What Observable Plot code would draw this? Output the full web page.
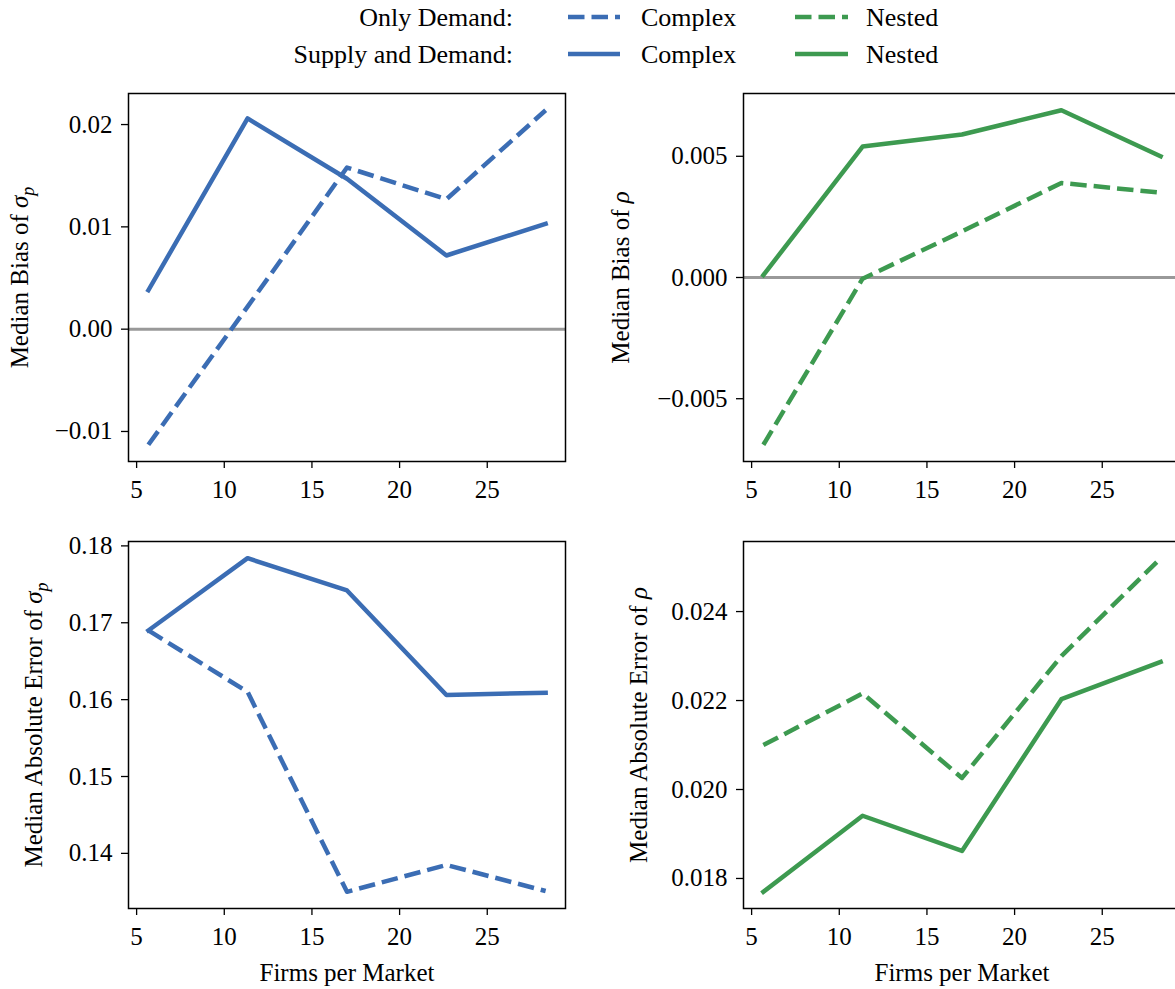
<!DOCTYPE html>
<html><head><meta charset="utf-8">
<script src="https://cdn.jsdelivr.net/npm/d3@7"></script>
<script src="https://cdn.jsdelivr.net/npm/@observablehq/plot@0.6"></script>
<style>
html,body{margin:0;padding:0;background:#fff;width:1175px;height:989px;overflow:hidden;}
.panel{position:absolute;}
.panel svg{max-width:none !important;}
</style></head><body>
<div id="legend" class="panel" style="left:0;top:0"></div>
<div id="tl" class="panel" style="left:0;top:70px"></div>
<div id="tr" class="panel" style="left:600px;top:70px"></div>
<div id="bl" class="panel" style="left:0;top:500px"></div>
<div id="br" class="panel" style="left:600px;top:500px"></div>
<script>
// ---- data ----
const firms = [5.67, 11.33, 17.0, 22.67, 28.33];
const biasSigmaDemand = [-0.0113, 0.0022, 0.0158, 0.0127, 0.0214];
const biasSigmaSupply = [0.0038, 0.0206, 0.0147, 0.0072, 0.0103];
const biasRhoDemand = [-0.0069, -0.00005, 0.0019, 0.0039, 0.0035];
const biasRhoSupply = [0.0001, 0.0054, 0.0059, 0.0069, 0.0050];
const maeSigmaDemand = [0.1690, 0.1610, 0.1350, 0.1385, 0.1351];
const maeSigmaSupply = [0.1690, 0.1784, 0.1742, 0.1606, 0.1609];
const maeRhoDemand = [0.0210, 0.02216, 0.02026, 0.0230, 0.0252];
const maeRhoSupply = [0.0177, 0.01941, 0.01862, 0.02203, 0.02287];

const xTicks = [5, 10, 15, 20, 25];
const biasSigmaTicks = [-0.01, 0, 0.01, 0.02];
const biasRhoTicks = [-0.005, 0, 0.005];
const maeSigmaTicks = [0.14, 0.15, 0.16, 0.17, 0.18];
const maeRhoTicks = [0.018, 0.020, 0.022, 0.024];

const legendRows = ["Only Demand:", "Supply and Demand:"];
const legendModels = ["Complex", "Nested"];
const xLabelText = "Firms per Market";

// ---- style ----
const FONT = "Liberation Serif";
const FS = 25;
const BLUE = "#3b6db4", GREEN = "#3d9a50";
const LW = 4.5;
const DASH = "16.5,7";

function padded(vals) {
  const [a, b] = d3.extent(vals);
  const m = (b - a) * 0.05;
  return [a - m, b + m];
}

function panel(o) {
  const rows = (vals, model) => firms.map((f, i) => ({firms: f, value: vals[i], model}));
  const dem = rows(o.demand, "Only Demand");
  const sup = rows(o.supply, "Supply and Demand");
  const marks = [];
  if (o.zero) marks.push(Plot.ruleY([0], {stroke: "#999", strokeWidth: 3}));
  marks.push(Plot.line(dem, {x: "firms", y: "value", stroke: o.color, strokeWidth: LW,
    strokeDasharray: DASH, strokeLinecap: "butt", strokeLinejoin: "round"}));
  marks.push(Plot.line(sup, {x: "firms", y: "value", stroke: o.color, strokeWidth: LW,
    strokeLinecap: "square", strokeLinejoin: "round"}));
  marks.push(Plot.frame({stroke: "black", strokeWidth: 1.5}));
  marks.push(Plot.axisX({ticks: xTicks, tickFormat: d3.format("d"), tickSize: 7, tickPadding: 12,
    strokeWidth: 1.3, label: o.xLabel ? xLabelText : null, labelAnchor: "center", labelOffset: 72}));
  marks.push(Plot.axisY({ticks: o.yTicks, tickFormat: d3.format(o.yFormat), tickSize: 7, tickPadding: 9,
    strokeWidth: 1.3, label: o.yLabel, labelAnchor: "center", labelOffset: o.labelOffset}));
  const svg = Plot.plot({
    width: o.width, height: o.height,
    marginLeft: o.marginLeft, marginRight: o.marginRight,
    marginTop: o.marginTop, marginBottom: o.marginBottom,
    x: {domain: padded(firms)},
    y: {domain: padded([...o.demand, ...o.supply])},
    style: {fontFamily: FONT, fontSize: FS + "px", color: "black", background: "transparent",
      overflow: "visible", maxWidth: "none"},
    marks
  });
  svg.style.maxWidth = "none";
  svg.style.width = o.width + "px";
  svg.style.height = o.height + "px";
  const yl = svg.querySelector('[aria-label="y-axis label"] text');
  if (yl) {
    const sym = o.sub
      ? `<tspan font-style="italic">${o.symbol}</tspan><tspan font-style="italic" font-size="${Math.round(FS*0.7)}" dy="6">${o.sub}</tspan>`
      : `<tspan font-style="italic">${o.symbol}</tspan>`;
    yl.innerHTML = o.yLabel + " " + sym;
  }
  const xl = svg.querySelector('[aria-label="x-axis label"] text');
  if (xl) xl.textContent = xLabelText;
  document.getElementById(o.id).appendChild(svg);
}

panel({id: "tl", demand: biasSigmaDemand, supply: biasSigmaSupply, color: BLUE, zero: true,
  yTicks: biasSigmaTicks, yFormat: ".2f", yLabel: "Median Bias of", symbol: "σ", sub: "p",
  labelOffset: 118, width: 590, height: 440, marginLeft: 128, marginRight: 25, marginTop: 23, marginBottom: 49});
panel({id: "tr", demand: biasRhoDemand, supply: biasRhoSupply, color: GREEN, zero: true,
  yTicks: biasRhoTicks, yFormat: ".3f", yLabel: "Median Bias of", symbol: "ρ",
  labelOffset: 132, width: 590, height: 440, marginLeft: 143, marginRight: 10, marginTop: 23, marginBottom: 49});
panel({id: "bl", demand: maeSigmaDemand, supply: maeSigmaSupply, color: BLUE, xLabel: true,
  yTicks: maeSigmaTicks, yFormat: ".2f", yLabel: "Median Absolute Error of", symbol: "σ", sub: "p",
  labelOffset: 104, width: 590, height: 489, marginLeft: 128, marginRight: 25, marginTop: 41, marginBottom: 81});
panel({id: "br", demand: maeRhoDemand, supply: maeRhoSupply, color: GREEN, xLabel: true,
  yTicks: maeRhoTicks, yFormat: ".3f", yLabel: "Median Absolute Error of", symbol: "ρ",
  labelOffset: 114, width: 590, height: 489, marginLeft: 143, marginRight: 10, marginTop: 41, marginBottom: 81});

// ---- legend ----
(function legend() {
  const svg = d3.create("svg").attr("width", 1175).attr("height", 75)
    .style("font-family", FONT).style("font-size", "26px");
  const rowY = [17, 54];
  const colors = [BLUE, GREEN];
  const swatchX = [[568, 620], [795, 848]];
  const textX = [641, 866];
  legendRows.forEach((r, i) => {
    svg.append("text").attr("x", 513).attr("y", rowY[i]).attr("dy", "0.35em")
      .attr("text-anchor", "end").text(r);
    legendModels.forEach((m, j) => {
      svg.append("line").attr("x1", swatchX[j][0]).attr("x2", swatchX[j][1])
        .attr("y1", rowY[i]).attr("y2", rowY[i]).attr("stroke", colors[j]).attr("stroke-width", LW)
        .attr("stroke-dasharray", i === 0 ? DASH : null);
      svg.append("text").attr("x", textX[j]).attr("y", rowY[i]).attr("dy", "0.35em").text(m);
    });
  });
  document.getElementById("legend").appendChild(svg.node());
})();
</script>
</body></html>
